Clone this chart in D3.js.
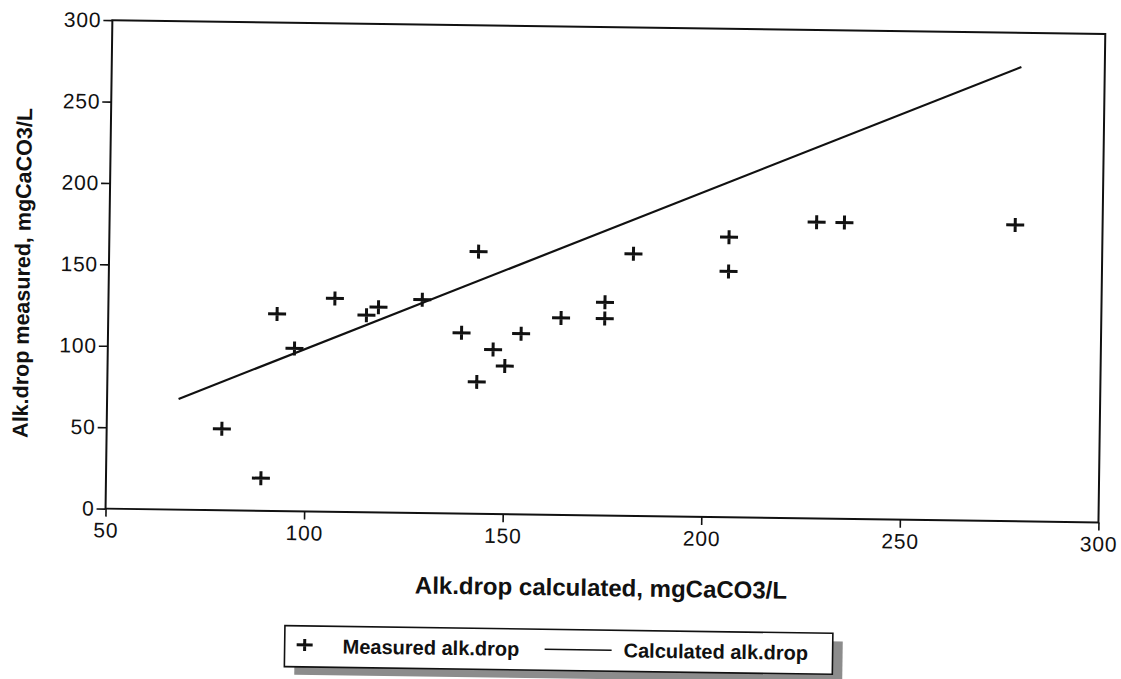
<!DOCTYPE html>
<html>
<head>
<meta charset="utf-8">
<script src="https://cdn.jsdelivr.net/npm/d3@7"></script>
<style>
  body { margin: 0; background: #fff; }
  svg { display: block; }
</style>
</head>
<body>
<svg id="chart" width="1121" height="679"></svg>
<script>
// values
const calculated = [79, 89, 92.5, 97, 107, 115, 118, 129, 143, 139, 154, 147, 150, 143, 164, 175, 175, 182, 206, 206, 228, 235, 278];
const measured   = [50, 20, 121, 100, 131, 121, 126, 131, 161, 111, 111, 101, 91, 81, 121, 131, 121, 161, 172, 151, 182, 182, 182];
const lineX = [68, 279];
const lineY = [68, 279];
const xTicks = [50, 100, 150, 200, 250, 300];
const yTicks = [0, 50, 100, 150, 200, 250, 300];
const legendLabels = ["Measured alk.drop", "Calculated alk.drop"];

const svg = d3.select("#chart");
// the scan is tilted slightly clockwise
const g = svg.append("g").attr("transform", "rotate(0.8, 600, 265)");

const plotLeft = 109, plotRight = 1102, plotTop = 27, plotBottom = 515.5;

const x = d3.scaleLinear().domain([50, 300]).range([plotLeft, plotRight]);
const y = d3.scaleLinear().domain([0, 300]).range([plotBottom, plotTop]);

const font = "'Liberation Sans', Arial, Helvetica, sans-serif";

// frame
g.append("rect")
    .attr("x", plotLeft).attr("y", plotTop)
    .attr("width", plotRight - plotLeft).attr("height", plotBottom - plotTop)
    .attr("fill", "none").attr("stroke", "#111").attr("stroke-width", 2);

const xAxis = g.append("g")
    .attr("transform", `translate(0, ${plotBottom})`)
    .call(d3.axisBottom(x).tickValues(xTicks).tickSize(8).tickPadding(6));
const yAxis = g.append("g")
    .attr("transform", `translate(${plotLeft}, 0)`)
    .call(d3.axisLeft(y).tickValues(yTicks).tickSize(9).tickPadding(2));

[xAxis, yAxis].forEach(a => {
    a.select(".domain").remove();
    a.selectAll(".tick line").attr("stroke", "#111").attr("stroke-width", 1.6);
    a.selectAll(".tick text")
        .attr("fill", "#111")
        .style("font-family", font)
        .style("font-size", "21px")
        .style("letter-spacing", "0.8px");
});

// axis titles
g.append("text")
    .attr("x", (plotLeft + plotRight) / 2)
    .attr("y", 596)
    .attr("text-anchor", "middle")
    .style("font-family", font).style("font-size", "24px").style("font-weight", "bold")
    .attr("fill", "#111")
    .text("Alk.drop calculated, mgCaCO3/L");

g.append("text")
    .attr("transform", "translate(30, 281) rotate(-90)")
    .attr("text-anchor", "middle")
    .style("font-family", font).style("font-size", "21.5px").style("font-weight", "bold")
    .attr("fill", "#111")
    .text("Alk.drop measured, mgCaCO3/L");

// calculated line
const lineData = lineX.map((v, i) => [v, lineY[i]]);
g.append("path")
    .datum(lineData)
    .attr("d", d3.line().x(d => x(d[0])).y(d => y(d[1])))
    .attr("fill", "none").attr("stroke", "#111").attr("stroke-width", 2.2);

// measured points as plus markers
const plus = "M-9,0H9M0,-7V7";
g.selectAll(".pt")
    .data(calculated.map((c, i) => ({ c, m: measured[i] })))
    .enter().append("path")
    .attr("class", "pt")
    .attr("transform", d => `translate(${x(d.c)}, ${y(d.m)})`)
    .attr("d", plus)
    .attr("stroke", "#111").attr("stroke-width", 3).attr("fill", "none");

// legend
const lg = g.append("g").attr("transform", "translate(290, 630)");
const lw = 548, lh = 41;
lg.append("rect").attr("x", 10).attr("y", 8).attr("width", lw).attr("height", lh)
    .attr("fill", "#8c8c8c");
lg.append("rect").attr("x", 0).attr("y", 0).attr("width", lw).attr("height", lh)
    .attr("fill", "#fff").attr("stroke", "#111").attr("stroke-width", 1.6);
lg.append("path").attr("transform", "translate(20, 19)").attr("d", "M-8,0H8M0,-6V6")
    .attr("stroke", "#111").attr("stroke-width", 3);
lg.append("line").attr("x1", 260).attr("x2", 327).attr("y1", 20).attr("y2", 20)
    .attr("stroke", "#111").attr("stroke-width", 1.6);
lg.selectAll(".lt")
    .data(legendLabels)
    .enter().append("text")
    .attr("class", "lt")
    .attr("x", (d, i) => i === 0 ? 58 : 339)
    .attr("y", 27)
    .style("font-family", font).style("font-size", "20px").style("font-weight", "bold")
    .attr("fill", "#111")
    .text(d => d);
</script>
</body>
</html>
